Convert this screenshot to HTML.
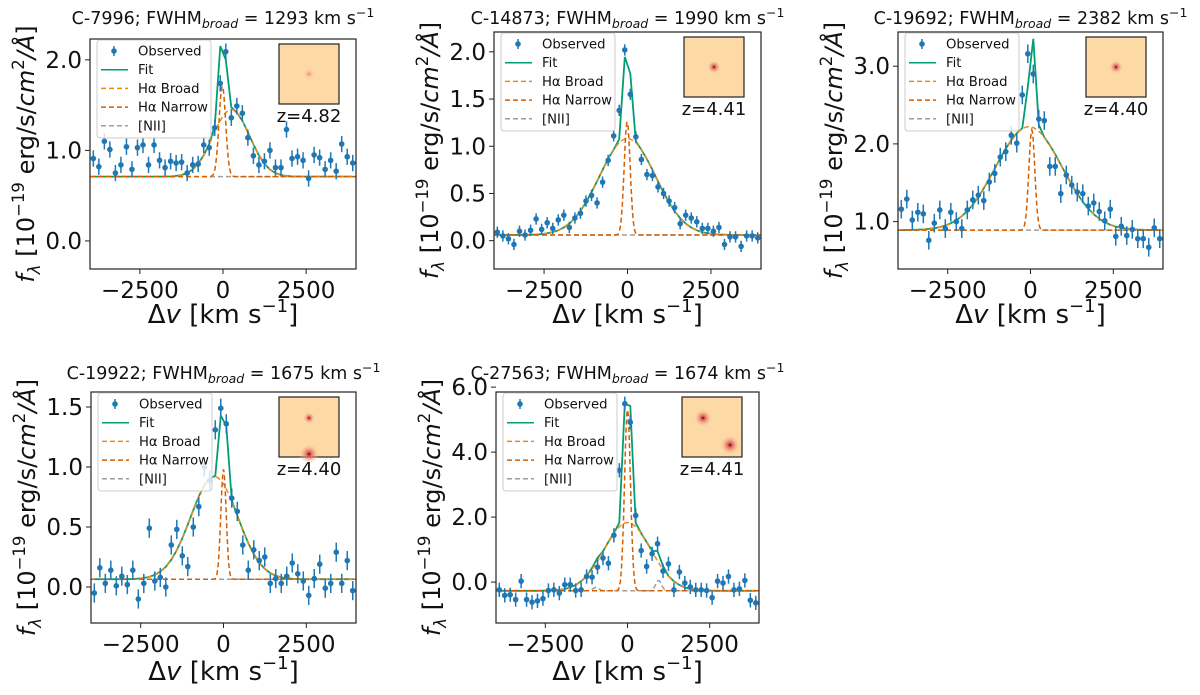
<!DOCTYPE html>
<html><head><meta charset="utf-8"><style>
html,body{margin:0;padding:0;background:#fff;}
svg{display:block;font-family:"DejaVu Sans","Liberation Sans",sans-serif;}
</style></head><body>
<svg id="fig" width="1200" height="695" viewBox="0 0 1200 695" xmlns="http://www.w3.org/2000/svg"></svg>
<script>
// shared velocity grid (km/s)
const velocities = [-3900,-3734,-3568,-3402,-3236,-3070,-2904,-2738,-2572,-2406,-2240,-2074,-1908,-1742,-1576,-1410,-1244,-1078,-912,-746,-580,-414,-248,-82,84,250,416,582,748,914,1080,1246,1412,1578,1744,1910,2076,2242,2408,2574,2740,2906,3072,3238,3404,3570,3736,3902];
const panelIds = ["C-7996","C-14873","C-19692","C-19922","C-27563"];
const fwhmValues = [1293,1990,2382,1675,1674];
const redshifts = ["4.82","4.41","4.40","4.40","4.41"];
const obs1 = [0.91,0.82,1.10,1.01,0.75,0.84,1.04,0.79,1.03,1.06,0.84,1.06,0.89,0.81,0.88,0.86,0.87,0.75,0.84,0.85,1.06,1.03,1.25,1.74,2.09,1.36,1.49,1.41,1.14,0.94,0.84,0.88,1.00,0.81,0.81,1.23,0.91,0.93,0.89,0.69,0.95,0.92,0.79,0.89,0.77,1.07,0.93,0.86];
const obs2 = [0.09,0.05,0.02,-0.04,0.10,0.06,0.11,0.23,0.12,0.19,0.13,0.22,0.27,0.14,0.24,0.29,0.42,0.48,0.40,0.62,0.85,1.11,1.38,2.02,1.55,1.10,0.86,0.70,0.69,0.57,0.50,0.42,0.35,0.18,0.27,0.24,0.20,0.13,0.13,0.10,0.14,-0.04,0.04,0.04,-0.06,0.05,0.05,0.03];
const obs3 = [1.16,1.29,1.02,1.12,1.10,0.76,0.98,1.15,0.91,1.12,1.00,0.91,1.15,1.28,1.34,1.27,1.51,1.62,1.83,1.90,2.11,2.01,2.63,3.16,2.90,2.32,2.30,1.71,1.71,1.36,1.60,1.47,1.38,1.36,1.20,1.24,1.13,1.01,1.16,0.81,0.94,0.82,0.90,0.78,0.78,0.67,0.92,0.78];
const obs4 = [-0.05,0.16,0.03,0.14,0.01,0.09,0.02,0.14,-0.10,0.03,0.49,0.05,0.08,0.00,0.35,0.48,0.26,0.17,0.50,0.67,1.00,0.89,1.31,1.49,1.36,0.74,0.63,0.35,0.14,0.31,0.22,0.25,0.03,0.07,0.03,0.09,0.20,0.11,0.05,-0.07,0.07,0.19,-0.01,0.03,0.29,0.03,0.22,-0.03];
const obs5 = [-0.24,-0.41,-0.39,-0.54,0.03,-0.54,-0.62,-0.58,-0.51,-0.26,-0.24,-0.34,-0.08,-0.08,-0.26,-0.24,0.17,0.15,0.46,0.74,0.58,1.44,3.44,5.49,4.92,2.05,0.97,0.48,0.87,1.18,0.34,0.56,-0.24,0.31,-0.03,-0.15,-0.24,-0.24,-0.26,-0.48,0.03,-0.03,0.17,-0.24,-0.21,0.05,-0.56,-0.64];
const observed = [obs1,obs2,obs3,obs4,obs5];
const obsErrors = [0.09,0.06,0.12,0.08,0.22];
// model fit parameters
const continuum = [0.71,0.06,0.89,0.065,-0.27];
const broadAmp = [0.74,1.02,1.33,0.855,2.10];
const broadCenter = [250,0,-50,-280,0];
const narrowAmp = [1.0,1.2,1.29,0.915,5.57];
const narrowCenter = [-20,-10,40,0,0];
const narrowSigma = [100,90,90,80,90];
const niiAmp = [0,0,0,0,0.32];
// axis limits and ticks
const yMin = [-0.31,-0.30,0.39,-0.30,-1.26];
const yMax = [2.23,2.21,3.44,1.625,5.85];
const yTicks = [[0,1,2],[0,0.5,1,1.5,2],[1,2,3],[0,0.5,1,1.5],[0,2,4,6]];
const xTicks = [-2500,0,2500];
const xMin=-4000, xMax=4000;

const geom=[{L:90,T:39,R:356,B:269,row:0},{L:494,T:32,R:761,B:269,row:0},{L:898,T:32,R:1163,B:269,row:0},{L:91,T:392,R:356,B:623,row:1},{L:496,T:392,R:759,B:623,row:1}];
const NS="http://www.w3.org/2000/svg";
const fig=document.getElementById('fig');
function mk(tag,attrs,parent){const e=document.createElementNS(NS,tag);for(const k in attrs)e.setAttribute(k,attrs[k]);(parent||fig).appendChild(e);return e;}
const C={obs:"#1f77b4",fit:"#029e73",broad:"#ef8a17",narrow:"#d55e00",nii:"#9e9e9e"};
function gauss(v,a,c,s){return a*Math.exp(-(v-c)*(v-c)/(2*s*s));}

geom.forEach((g,p)=>{
  const sx=v=>g.L+(v-xMin)/(xMax-xMin)*(g.R-g.L);
  const sy=y=>g.B-(y-yMin[p])/(yMax[p]-yMin[p])*(g.B-g.T);
  const sb=fwhmValues[p]/2.355;
  const broad=v=>continuum[p]+gauss(v,broadAmp[p],broadCenter[p],sb);
  const narrow=v=>continuum[p]+gauss(v,narrowAmp[p],narrowCenter[p],narrowSigma[p]);
  const nii=v=>continuum[p]+gauss(v,niiAmp[p],945,90)+gauss(v,niiAmp[p]/3,-960,90);
  const fit=v=>broad(v)+gauss(v,narrowAmp[p],narrowCenter[p],narrowSigma[p])+gauss(v,niiAmp[p],945,90)+gauss(v,niiAmp[p]/3,-960,90);
  const grp=mk('g',{});
  
  
  const cid='clip'+p;
  const cp=mk('clipPath',{id:cid},grp);mk('rect',{x:g.L,y:g.T,width:g.R-g.L,height:g.B-g.T},cp);
  const plot=mk('g',{'clip-path':'url(#'+cid+')'},grp);
  
  
  const fine=[];for(let v=xMin;v<=xMax;v+=20)fine.push(v);
  const line=(f,pts,col,dash,w,name)=>{const e=mk('polyline',{points:pts.map(v=>sx(v).toFixed(1)+','+sy(f(v)).toFixed(1)).join(' '),fill:'none',stroke:col,'stroke-width':w,'stroke-dasharray':dash||'none'},plot);
    
    };
  line(nii,fine,C.nii,'5,3',1.5,'nii-line');
  line(fit,velocities,C.fit,null,1.8,'fit-line');
  line(broad,fine,C.broad,'5,3',1.5,'halpha-broad-line');
  line(narrow,fine,C.narrow,'5,3',1.5,'halpha-narrow-line');
  observed[p].forEach((y,i)=>{
    const x=sx(velocities[i]);
    const eb=mk('line',{x1:x,x2:x,y1:sy(y-obsErrors[p]),y2:sy(y+obsErrors[p]),stroke:C.obs,'stroke-width':1.5},plot);
    
    
    const c=mk('circle',{cx:x,cy:sy(y),r:2.8,fill:C.obs},plot);
    
    
  });
  const fr=mk('rect',{x:g.L,y:g.T,width:g.R-g.L,height:g.B-g.T,fill:'none',stroke:'#222','stroke-width':1.2},grp);
  
  
  xTicks.forEach(t=>{const x=sx(t);mk('line',{x1:x,x2:x,y1:g.B,y2:g.B+5,stroke:'#222','stroke-width':1},grp);
    const tx=mk('text',{x:x,y:g.B+29,'font-size':23,'text-anchor':'middle',fill:'#111'},grp);tx.textContent=(t<0?'\u2212':'')+Math.abs(t);
    
    });
  yTicks[p].forEach(t=>{const y=sy(t);mk('line',{x1:g.L-5,x2:g.L,y1:y,y2:y,stroke:'#222','stroke-width':1},grp);
    const tx=mk('text',{x:g.L-8,y:y+8,'font-size':23,'text-anchor':'end',fill:'#111'},grp);tx.textContent=t.toFixed(1);
    
    });
  const cx=(g.L+g.R)/2;
  const tb=g.row?379:24;
  const tt=mk('text',{x:cx,y:tb,'font-size':17.5,'text-anchor':'middle',fill:'#111'},grp);
  tt.innerHTML=panelIds[p]+'; FWHM<tspan font-style="italic" font-size="12.5" dy="4">broad</tspan><tspan dy="-4"> = '+fwhmValues[p]+' km s</tspan><tspan font-size="12.5" dy="-7">\u22121</tspan>';
  
  
  const xl=mk('text',{x:cx,y:g.row?680:323,'font-size':26,'text-anchor':'middle',fill:'#111'},grp);
  xl.innerHTML='\u0394<tspan font-style="italic">v</tspan> [km s<tspan font-size="18" dy="-11">\u22121</tspan><tspan dy="11">]</tspan>';
  
  
  const yc=(g.T+g.B)/2, yx=g.L-56;
  const yl=mk('text',{x:0,y:0,'font-size':24,'text-anchor':'middle',fill:'#111',transform:'translate('+yx+','+yc+') rotate(-90)'},grp);
  yl.innerHTML='<tspan font-style="italic">f</tspan><tspan font-style="italic" font-size="16.5" dy="6">\u03bb</tspan><tspan dy="-6"> [10</tspan><tspan font-size="16.5" dy="-10">\u221219</tspan><tspan dy="10"> erg/s/</tspan><tspan font-style="italic">cm</tspan><tspan font-size="16.5" dy="-10">2</tspan><tspan dy="10" font-style="italic">/\u00c5</tspan>]';
  
  
  // legend
  const lg=mk('g',{},grp);
  
  
  const lx=g.L+7, ly=g.T+1;
  mk('rect',{x:lx,y:ly,width:114,height:98,rx:3,fill:'#fff','fill-opacity':0.8,stroke:'#ccc','stroke-width':1},lg);
  const items=[['Observed','obs'],['Fit','fit'],['H\u03b1 Broad','broad'],['H\u03b1 Narrow','narrow'],['[NII]','nii']];
  items.forEach((it,k)=>{const y=ly+11+k*18.7;
    if(it[1]==='obs'){mk('line',{x1:lx+17,x2:lx+17,y1:y-5,y2:y+5,stroke:C.obs,'stroke-width':1.5},lg);mk('circle',{cx:lx+17,cy:y,r:2.8,fill:C.obs},lg);}
    else mk('line',{x1:lx+4,x2:lx+31,y1:y,y2:y,stroke:C[it[1]],'stroke-width':1.5,'stroke-dasharray':it[1]==='fit'?'none':'5,3'},lg);
    const t=mk('text',{x:lx+41,y:y+4.5,'font-size':13.2,fill:'#111'},lg);t.textContent=it[0];
    
    });
  // inset cutout
  const ix=g.R-77, iy=g.T+5;
  const ins=mk('g',{},grp);
  
  
  const gid='rg'+p;
  const rg=mk('radialGradient',{id:gid},ins);
  mk('stop',{offset:'0%','stop-color':p===0?'#f08080':'#1a0a30'},rg);
  mk('stop',{offset:p===0?'30%':'18%','stop-color':p===0?'#f8b8a0':'#e05050'},rg);
  mk('stop',{offset:'100%','stop-color':'#fcd9a5','stop-opacity':0},rg);
  mk('rect',{x:ix,y:iy,width:60,height:60,fill:'#fcd9a5',stroke:'#222','stroke-width':1.2},ins);
  const spots=[[[0.5,0.5,6]],[[0.5,0.5,7]],[[0.5,0.5,7]],[[0.5,0.35,6],[0.5,0.95,10]],[[0.35,0.35,9],[0.8,0.8,10]]][p];
  spots.forEach(s=>mk('circle',{cx:ix+60*s[0],cy:iy+60*s[1],r:s[2],fill:'url(#'+gid+')'},ins));
  const zt=mk('text',{x:ix+30,y:iy+78,'font-size':18,'text-anchor':'middle',fill:'#111'},ins);zt.textContent='z='+redshifts[p];
  
  
});
</script>
</body></html>
